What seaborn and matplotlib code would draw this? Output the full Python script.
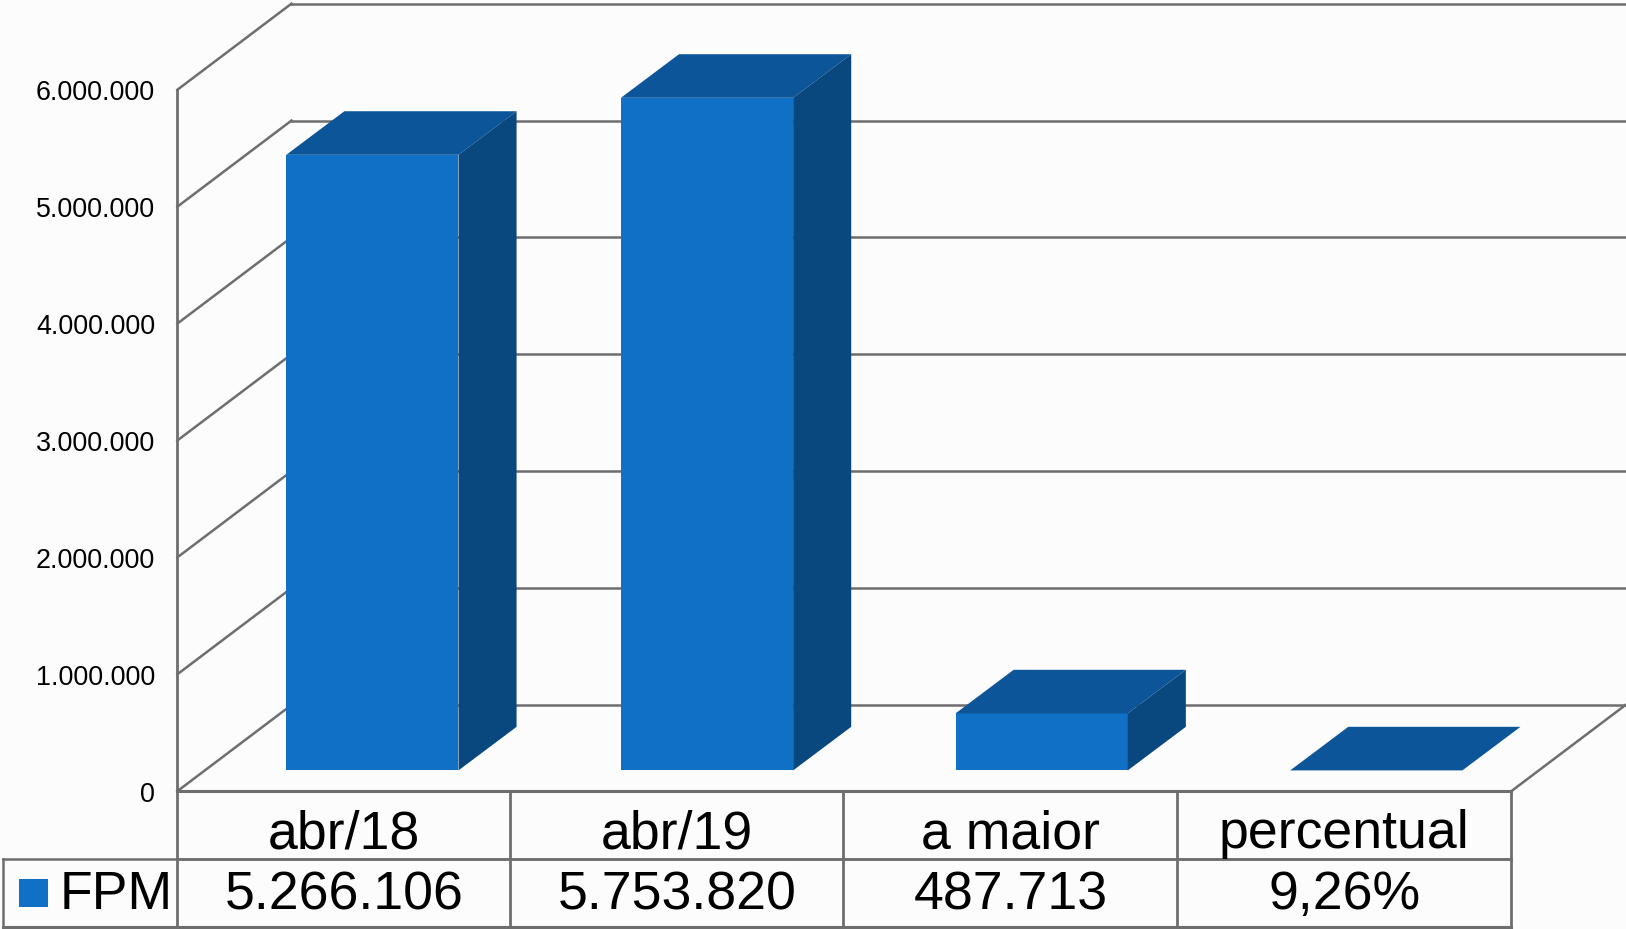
import numpy as np
import matplotlib
matplotlib.use('Agg')
import matplotlib.pyplot as plt
import seaborn as sns

categories = ['abr/18', 'abr/19', 'a maior', 'percentual']
values = [5266106, 5753820, 487713, 0.0926]
value_labels = ['5.266.106', '5.753.820', '487.713', '9,26%']
y_ticks = [0, 1000000, 2000000, 3000000, 4000000, 5000000, 6000000]
y_tick_labels = ['0', '1.000.000', '2.000.000', '3.000.000', '4.000.000', '5.000.000', '6.000.000']
series_name = 'FPM'

front_color = '#0F70C6'
top_color = '#0C5599'
side_color = '#09487F'
line_color = '#6E6E6E'
bg_color = '#FCFCFC'

W, H = 1626, 929
S = 1626 / 1568  # numbers below were measured on the 1568 wide picture

# frame of the fake 3d chart
left, right_front, right_back = 171 * S, 1457 * S, 1566 * S
y_zero, y_six = 763 * S, 87 * S
px_per_unit = (y_zero - y_six) / 6000000
wall_dx, wall_dy = 110 * S, 83 * S
table_cols = np.array([171, 492, 813, 1135, 1457]) * S
row_1, row_2 = 828 * S, 894 * S

sns.set_theme(style='white')
plt.rcParams['font.family'] = ['Liberation Sans', 'DejaVu Sans']

fig = plt.figure(figsize=((W + 0.5) / 100, (H + 0.5) / 100), dpi=100, facecolor=bg_color)

# background axes in pixels: walls, gridlines, table
bg = fig.add_axes([0, 0, 1, 1])
bg.set_xlim(0, W)
bg.set_ylim(H, 0)
bg.axis('off')


def seg(x, y, lw=1.8):
    bg.plot(x, y, color=line_color, lw=lw, solid_capstyle='projecting')


for t in y_ticks:
    y = y_zero - t * px_per_unit
    seg([left, left + wall_dx], [y, y - wall_dy])
    seg([left + wall_dx, right_back + 3], [y - wall_dy, y - wall_dy])
# floor
seg([left, right_front], [y_zero, y_zero], lw=2.2)
seg([right_front, right_front + wall_dx], [y_zero, y_zero - wall_dy])
# left wall
seg([left, left], [y_six, row_2], lw=2)

# table
seg([left, right_front], [row_1, row_1])
seg([3 * S, right_front], [row_1, row_1])
seg([3 * S, right_front], [row_2, row_2], lw=2.2)
seg([3 * S, 3 * S], [row_1, row_2])
for c in table_cols[1:]:
    seg([c, c], [y_zero, row_2], lw=2)
for i in range(4):
    xc = (table_cols[i] + table_cols[i + 1]) / 2
    bg.text(xc, 804 * S, categories[i], ha='center', va='center', fontsize=38.6, color='black')
    bg.text(xc, 863 * S, value_labels[i], ha='center', va='center', fontsize=38.6, color='black')
bg.add_patch(plt.Rectangle((18 * S, 848 * S), 28 * S, 27 * S, color=front_color, lw=0))
bg.text(57 * S, 863 * S, series_name, ha='left', va='center', fontsize=38.6, color='black')

# bar axes on top, from the front left corner to the top right corner
top_px = 3 * S
ax = fig.add_axes([left / W, 1 - y_zero / H, (right_back - left) / W, (y_zero - top_px) / H])
ax.patch.set_alpha(0)

bar_spacing = 322.6 * S
first_center = 359 * S
bar_width = 166 * S / bar_spacing
floor_gap = 20 * S / px_per_unit
depth_x = 56 * S / bar_spacing
depth_y = 42 * S / px_per_unit

sns.barplot(x=categories, y=values, color=front_color, saturation=1, width=bar_width,
            bottom=floor_gap, ax=ax, zorder=3, linewidth=0)

# depth faces of each bar
for i, v in enumerate(values):
    x0, x1 = i - bar_width / 2, i + bar_width / 2
    y0, y1 = floor_gap, floor_gap + v
    ax.fill([x0, x1, x1 + depth_x, x0 + depth_x], [y1, y1, y1 + depth_y, y1 + depth_y],
            color=top_color, lw=0, zorder=3)
    if v > 1:
        ax.fill([x1, x1 + depth_x, x1 + depth_x, x1], [y0, y0 + depth_y, y1 + depth_y, y1],
                color=side_color, lw=0, zorder=3)

ax.set_xlim((left - first_center) / bar_spacing, (right_back - first_center) / bar_spacing)
ax.set_ylim(0, (y_zero - top_px) / px_per_unit)
ax.set_xticks([])
ax.set_yticks(y_ticks)
ax.set_yticklabels(y_tick_labels, fontsize=19.4, color='black')
ax.tick_params(axis='y', length=0, pad=16)
ax.set_xlabel('')
ax.set_ylabel('')
sns.despine(ax=ax, left=True, bottom=True)

plt.savefig('out.png', dpi=100, facecolor=bg_color)
plt.close()
